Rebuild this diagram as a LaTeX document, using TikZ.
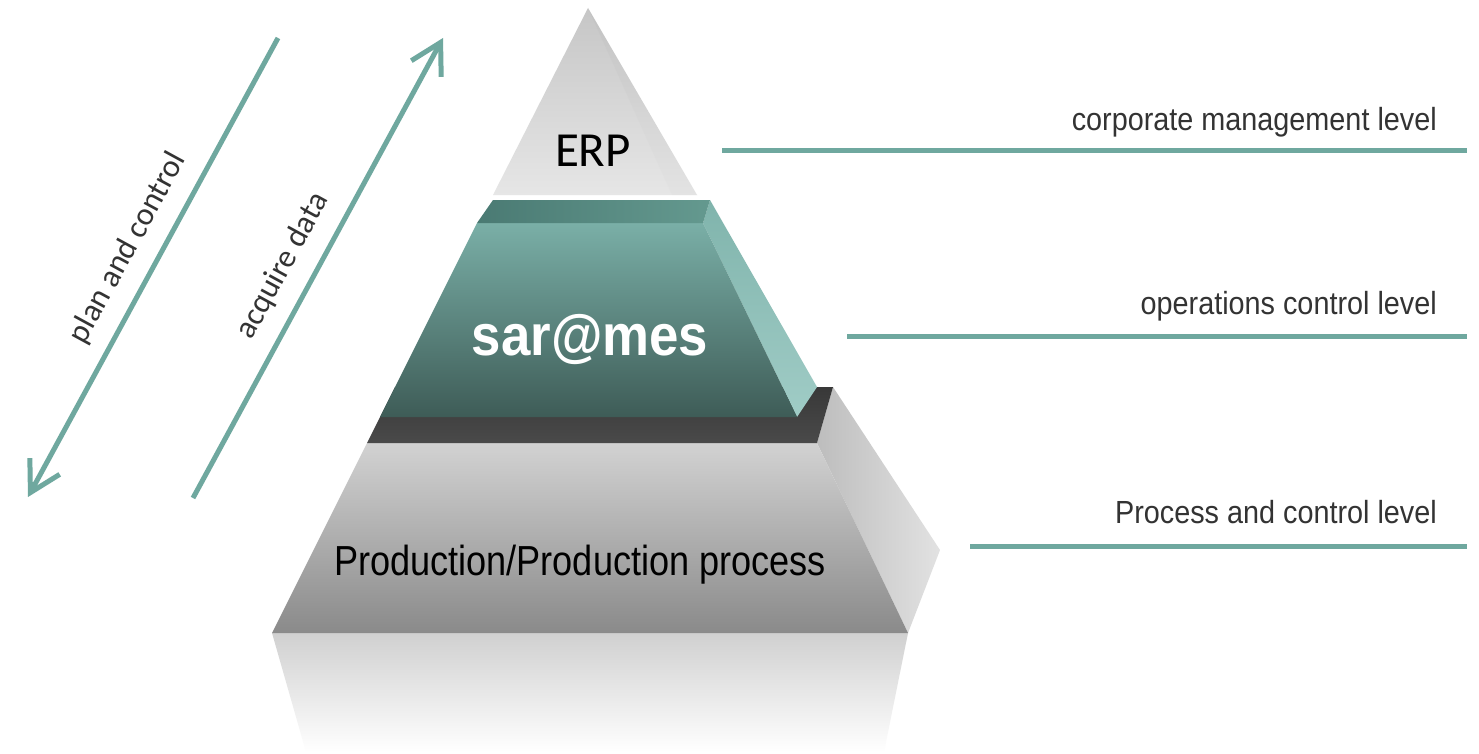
\documentclass[tikz,border=0pt]{standalone}
\usepackage{fontspec}
\usetikzlibrary{arrows.meta}
\newfontfamily\condfont[FakeStretch=0.90]{Liberation Sans}
\newfontfamily\prodfont[FakeStretch=0.86]{Liberation Sans}
\newfontfamily\mesfont[FakeStretch=0.91]{Liberation Sans}
\newfontfamily\carl{Carlito}
\definecolor{tealline}{HTML}{6FA89F}
\definecolor{labeltext}{HTML}{333333}
\definecolor{tealtopL}{HTML}{4A7A73}
\definecolor{tealtopR}{HTML}{64998F}
\definecolor{tealfrontT}{HTML}{7AAFA7}
\definecolor{tealfrontB}{HTML}{3E5C57}
\definecolor{tealsideT}{HTML}{80B4AC}
\definecolor{tealsideB}{HTML}{A0CCC6}
\definecolor{darkbandT}{HTML}{383838}
\definecolor{darkbandB}{HTML}{4A4A4A}
\definecolor{grayfrontT}{HTML}{D2D2D2}
\definecolor{grayfrontB}{HTML}{8A8A8A}
\definecolor{graysideL}{HTML}{BDBDBD}
\definecolor{graysideR}{HTML}{E2E2E2}
\definecolor{erpT}{HTML}{C6C6C6}
\definecolor{erpB}{HTML}{E6E6E6}
\definecolor{reflT}{HTML}{D0D0D0}
\tikzset{
  levelline/.style={draw=tealline, line width=5pt},
  flowarrow/.style={draw=tealline, line width=5pt, -{Straight Barb[length=30pt,width=34pt]}},
  levellabel/.style={font=\condfont\fontsize{32}{36}\selectfont, text=labeltext, anchor=base east, inner sep=0pt},
  flowlabel/.style={font=\carl\fontsize{32}{36}\selectfont, text=labeltext, rotate=61.4, inner sep=0pt},
}
\begin{document}
\begin{tikzpicture}[x=1pt,y=-1pt]
\useasboundingbox (0,0) rectangle (1479,754);
\fill[white] (0,0) rectangle (1479,754);

% reflection
\shade[top color=reflT, bottom color=white] (272,633) -- (908,633) -- (884,752) -- (306,752) -- cycle;

% bottom layer
\shade[left color=graysideL, right color=graysideR] (817,443) -- (833,387) -- (940,550) -- (908,633) -- cycle;
\shade[top color=grayfrontT, bottom color=grayfrontB] (367,443) -- (817,443) -- (908,633) -- (272,633) -- cycle;
\shade[top color=darkbandT, bottom color=darkbandB] (367,443) -- (395,387) -- (833,387) -- (817,443) -- cycle;

% middle layer
\shade[top color=tealsideT, bottom color=tealsideB] (710,200) -- (817,387) -- (797,417) -- (703,223) -- cycle;
\shade[top color=tealfrontT, bottom color=tealfrontB] (477,223) -- (703,223) -- (797,417) -- (380,417) -- cycle;
\shade[left color=tealtopL, right color=tealtopR] (493,200) -- (710,200) -- (703,223) -- (477,223) -- cycle;

% top layer
\shade[top color=erpT, bottom color=erpB] (588,8) -- (697,195) -- (493,195) -- cycle;
\shade[top color=erpT!90!black, bottom color=erpB!95!black, opacity=0.2] (588,8) -- (697,195) -- (672,195) -- cycle;

% layer texts
\node[font=\carl\fontsize{49}{54}\selectfont, anchor=base, inner sep=0pt] (erp) at (593,167) {ERP};
\node[font=\mesfont\bfseries\fontsize{58}{64}\selectfont, text=white, anchor=base, inner sep=0pt] (mes) at (590,355) {sar@mes};
\node[font=\prodfont\fontsize{42}{48}\selectfont, anchor=base, inner sep=0pt] (prod) at (580,575) {Production/Production process};

% level lines and labels
\coordinate (l1a) at (722,151); \coordinate (l1b) at (1467,151);
\coordinate (l2a) at (847,336); \coordinate (l2b) at (1467,336);
\coordinate (l3a) at (970,546); \coordinate (l3b) at (1467,546);
\draw[levelline] (l1a) -- (l1b);
\draw[levelline] (l2a) -- (l2b);
\draw[levelline] (l3a) -- (l3b);
\node[levellabel] (lab1) at (1437,131) {corporate management level};
\node[levellabel] (lab2) at (1437,314) {operations control level};
\node[levellabel] (lab3) at (1437,523) {Process and control level};

% flow arrows
\coordinate (pc1) at (278,38); \coordinate (pc2) at (28,497);
\coordinate (ad1) at (193,498); \coordinate (ad2) at (443,38);
\draw[flowarrow] (pc1) -- (pc2);
\draw[flowarrow] (ad1) -- (ad2);
\node[flowlabel] (pclab) at (128,248) {plan and control};
\node[flowlabel] (adlab) at (283,266) {acquire data};
\end{tikzpicture}
\end{document}
